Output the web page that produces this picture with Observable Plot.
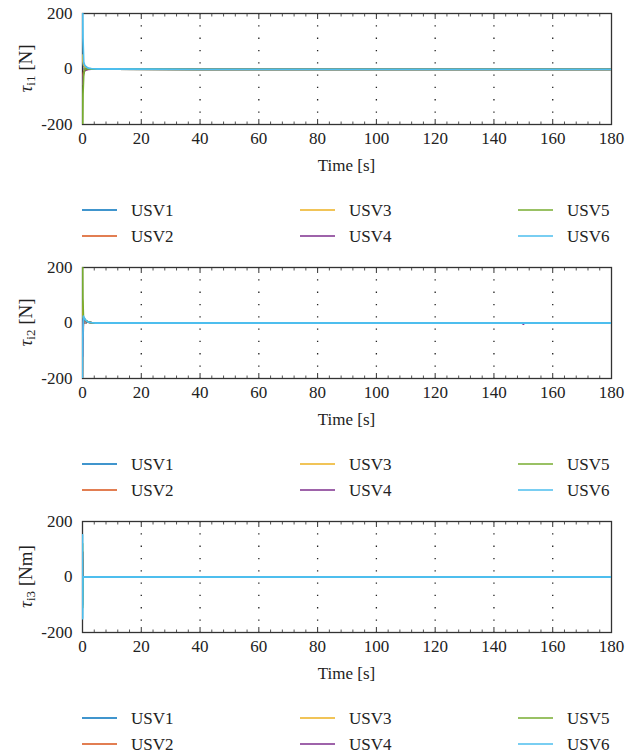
<!DOCTYPE html>
<html><head><meta charset="utf-8">
<script src="https://cdn.jsdelivr.net/npm/d3@7"></script>
<script src="https://cdn.jsdelivr.net/npm/@observablehq/plot@0.6"></script>
<style>
body{margin:0;background:#fff;font-family:"Liberation Serif","DejaVu Serif",serif;}
.panel{position:relative;width:641px;height:254px;}
.panel svg{display:block;}
.legend{position:absolute;left:0;top:0;width:641px;height:254px;pointer-events:none;}
.item{position:absolute;display:flex;align-items:center;font-size:17px;color:#222;line-height:1;}
.item span{margin-left:14px;}
</style></head><body><div id="root"></div>
<script>
const series = ["USV1","USV2","USV3","USV4","USV5","USV6"];
const colors = ["#0072BD","#D95319","#EDB120","#7E2F8E","#77AC30","#4DBEEE"];
const xTicks = [0,20,40,60,80,100,120,140,160,180];
const gridTicks = [20,40,60,80,100,120,140,160];
const minorTicks = [4,8,12,16,24,28,32,36,44,48,52,56,64,68,72,76,84,88,92,96,104,108,112,116,124,128,132,136,144,148,152,156,164,168,172,176];
const yTicks = [-200,0,200];
const yUnits = ["[N]","[N]","[Nm]"];
const ySubs = ["i1","i2","i3"];

// Panel 1 (tau_i1)
const p1Time = [0, 0.15, 0.4, 0.7, 1.0, 1.5, 2.0, 3.0, 5.0, 10, 40, 100, 180];
const p1USV1 = [35, 20, 10, 6, 4, 2, 1, 0.5, 0, 0, -1, -1, -1];
const p1USV2 = [-40, -22, -10, -5, -3, -1.5, -0.8, -0.3, 0, 0, -1, -1, -1];
const p1USV3 = [50, 28, 14, 8, 5, 3, 1.5, 0.5, 0, 0, -1, -1, -1];
const p1USV4 = [-55, -30, -14, -7, -4, -2, -1, 0, 0, 0, -1, -1, -1];
const p1USV5 = [-280, -90, -20, -4, 0, 1, 0.5, 0, 0, 0, -1, -1, -1];
const p1USV6 = [290, 110, 25, 14, 10, 6, 3, 1, 0, 0, -1, -1, -1];

// Panel 2 (tau_i2)
const p2Time = [0, 0.1, 0.3, 0.6, 1.0, 1.5, 2.0, 3.0, 4.5, 10, 60, 149.5, 150, 150.5, 180];
const p2USV1 = [-60, -20, 10, 12, 8, 5, 3, 1, 0, 0, 0, 0, 0, 0, 0];
const p2USV2 = [-260, -80, 5, 10, 8, 5, 3, 1, 0, 0, 0, 0, 0, 0, 0];
const p2USV3 = [80, 30, 18, 14, 9, 6, 3, 1, 0, 0, 0, 0, 0, 0, 0];
const p2USV4 = [-120, -40, 12, 14, 9, 5, 3, 1, 0, 0, 0, 0, -4, 0, 0];
const p2USV5 = [280, 90, 22, 16, 10, 6, 3, 1, 0, 0, 0, 0, 0, 0, 0];
const p2USV6 = [-270, -60, 25, 18, 11, 6, 3, 1, 0, 0, 0, 0, 0, 0, 0];

// Panel 3 (tau_i3)
const p3Time = [0, 0.05, 0.15, 0.4, 1.0, 10, 180];
const p3USV1 = [60, -50, 2, 0, 0, 0, 0];
const p3USV2 = [-70, 60, -2, 0, 0, 0, 0];
const p3USV3 = [90, -80, 1, 0, 0, 0, 0];
const p3USV4 = [-100, 90, -1, 0, 0, 0, 0];
const p3USV5 = [120, -110, 1, 0, 0, 0, 0];
const p3USV6 = [152, -150, 0, 0, 0, 0, 0];

const panels = [
  {time: p1Time, vals: [p1USV1,p1USV2,p1USV3,p1USV4,p1USV5,p1USV6]},
  {time: p2Time, vals: [p2USV1,p2USV2,p2USV3,p2USV4,p2USV5,p2USV6]},
  {time: p3Time, vals: [p3USV1,p3USV2,p3USV3,p3USV4,p3USV5,p3USV6]}
];

const FONT = '"Liberation Serif","DejaVu Serif",serif';
const root = document.getElementById("root");
const W = 641, H = 185, mL = 82, mR = 30, mT = 13, mB = 61;

panels.forEach((p, k) => {
  const rows = [];
  p.vals.forEach((arr, si) => arr.forEach((v, i) => rows.push({s: series[si], t: p.time[i], v})));
  const chart = Plot.plot({
    width: W, height: H,
    marginLeft: mL, marginRight: mR, marginTop: mT, marginBottom: mB,
    style: {fontFamily: FONT, fontSize: "17px", color: "#222", background: "#fff"},
    x: {domain: [0, 180]},
    y: {domain: [-200, 200]},
    color: {domain: series, range: colors},
    marks: [
      Plot.ruleX(gridTicks, {x: d => d, stroke: "#222", strokeWidth: 1.3, strokeDasharray: "1.3,11"}),
      Plot.axisX({anchor: "bottom", ticks: xTicks, tickSize: 0, tickPadding: 7, label: null, tickFormat: d => String(d), fontSize: 17}),
      Plot.axisX({anchor: "bottom", ticks: xTicks, tickSize: -5, tickFormat: () => "", label: null, stroke: "#333"}),
      Plot.axisX({anchor: "top", ticks: xTicks, tickSize: -5, tickFormat: () => "", label: null, stroke: "#333"}),
      Plot.axisX({anchor: "bottom", ticks: minorTicks, tickSize: -2.5, tickFormat: () => "", label: null, stroke: "#555"}),
      Plot.axisX({anchor: "top", ticks: minorTicks, tickSize: -2.5, tickFormat: () => "", label: null, stroke: "#555"}),
      Plot.axisY({anchor: "left", ticks: yTicks, tickSize: 0, tickPadding: 10, label: null, tickFormat: d => String(d), fontSize: 17}),
      Plot.axisY({anchor: "left", ticks: yTicks, tickSize: -5, tickFormat: () => "", label: null, stroke: "#333"}),
      Plot.axisY({anchor: "right", ticks: yTicks, tickSize: -5, tickFormat: () => "", label: null, stroke: "#333"}),
      Plot.frame({stroke: "#333", strokeWidth: 1.3}),
      Plot.line(rows, {x: "t", y: "v", z: "s", stroke: "s", strokeWidth: 1.8, clip: true})
    ]
  });
  const wrap = document.createElement("div");
  wrap.className = "panel";
  wrap.appendChild(chart);
  root.appendChild(wrap);

  const svg = d3.select(chart);
  const cx = (mL + (W - mR)) / 2;
  const cy = (mT + (H - mB)) / 2;
  // x label
  svg.append("text").attr("x", cx).attr("y", 165).attr("text-anchor", "middle")
    .attr("dominant-baseline", "central").attr("font-size", 17).attr("fill", "#222")
    .attr("font-family", FONT).text("Time [s]");
  // y label with subscript
  const yl = svg.append("text").attr("transform", `translate(25,${cy}) rotate(-90)`)
    .attr("text-anchor", "middle").attr("dominant-baseline", "central")
    .attr("font-size", 19).attr("fill", "#222").attr("font-family", FONT);
  yl.append("tspan").attr("font-style", "italic").text("τ");
  yl.append("tspan").attr("font-size", 13).attr("dy", 5).text(ySubs[k]);
  yl.append("tspan").attr("dy", -5).text("\u00a0" + yUnits[k]);

  // legend
  const leg = document.createElement("div");
  leg.className = "legend";
  const colX = [82, 300, 518];
  const rowY = [210, 236];
  series.forEach((s, i) => {
    const col = Math.floor(i / 2), row = i % 2;
    const it = document.createElement("div");
    it.className = "item";
    it.style.left = colX[col] + "px";
    it.style.top = (rowY[row] - 9) + "px";
    it.style.height = "18px";
    it.innerHTML = `<svg width="35" height="4"><line x1="0" x2="35" y1="2" y2="2" stroke="${colors[i]}" stroke-width="1.6"/></svg><span>${s}</span>`;
    leg.appendChild(it);
  });
  wrap.appendChild(leg);
});
</script></body></html>
